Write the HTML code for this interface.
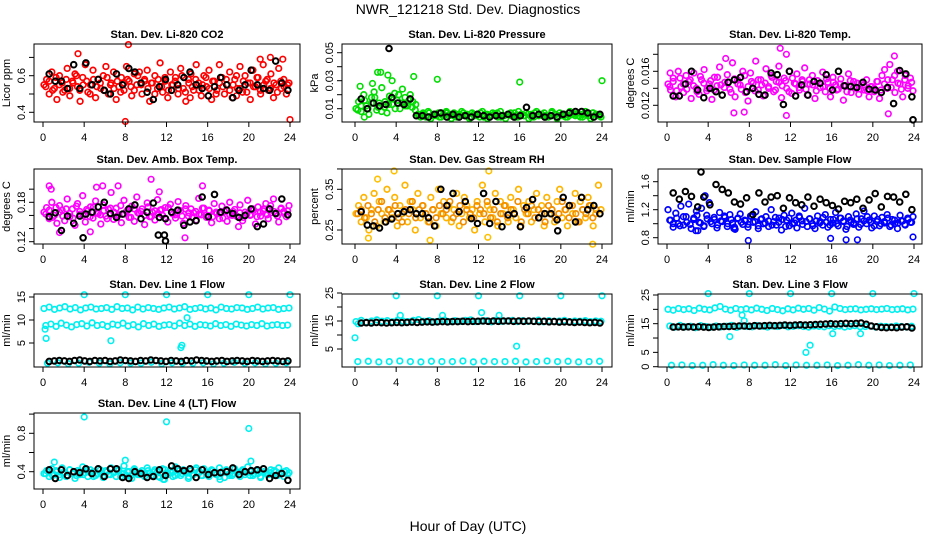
<!DOCTYPE html>
<html><head><meta charset="utf-8"><style>
html,body{margin:0;padding:0;background:#fff;width:936px;height:540px;overflow:hidden}
svg text{font-family:"Liberation Sans",Arial,sans-serif}
</style></head><body>
<svg id="chart" width="936" height="540" xmlns="http://www.w3.org/2000/svg">
<text x="468" y="14" font-size="14" text-anchor="middle">NWR_121218 Std. Dev. Diagnostics</text>
<text x="468" y="531" font-size="14" text-anchor="middle">Hour of Day (UTC)</text>
</svg>
<script>
const xTicks=[0,4,8,12,16,20,24];
// Panel 1 CO2
const co2Main=[.55,.58,.50,.62,.53,.47,.60,.56,.52,.64,.49,.57,.61,.54,.46,.59,.66,.51,.55,.63,.48,.58,.53,.60,.65,.50,.56,.62,.47,.54,.59,.52,.65,.57,.49,.61,.55,.62,.50,.58,.63,.46,.56,.60,.53,.67,.51,.57,.48,.62,.55,.59,.50,.64,.53,.46,.58,.61,.52,.66,.56,.49,.60,.54,.63,.47,.57,.52,.66,.59,.50,.55,.62,.48,.58,.53,.65,.51,.60,.56,.47,.63,.54,.59,.50,.66,.57,.52,.61,.48,.55,.64,.53,.58,.50,.56];
const co2Core=[.54,.57,.52,.59,.55,.51,.58,.53,.56,.60,.52,.55,.57,.50,.58,.54,.56,.52,.59,.55,.53,.57,.51,.56,.58,.54,.52,.60,.55,.57,.53,.56,.50,.58,.54,.59,.52,.55,.57,.53,.60,.51,.56,.54,.58,.52,.55,.59,.53,.57,.50,.56,.54,.58,.52,.55,.60,.53,.57,.51,.56,.54,.59,.52,.55,.58,.53,.56,.51,.57,.54,.55];
const co2Black=[.61,.57,.57,.53,.66,.53,.67,.55,.58,.52,.50,.61,.55,.64,.62,.56,.51,.47,.54,.58,.52,.55,.59,.62,.55,.53,.49,.54,.59,.55,.48,.52,.55,.63,.55,.53,.52,.68,.56,.52];
const co2OutH=[3.4,8.0,8.3,14.3,24,21.1,22.1,23.3,18.8];
const co2OutV=[.72,.35,.77,.48,.36,.69,.70,.69,.49];
// Panel 2 pressure
const prMain=[.010,.015,.008,.020,.012,.006,.018,.022,.009,.014,.025,.011,.007,.019,.013,.021,.016,.010,.024,.018,.012,.020,.015,.009,.006,.004,.007,.005,.008,.003,.006,.005,.007,.004,.006,.008,.005,.003,.007,.006,.004,.008,.005,.006,.003,.007,.005,.006,.004,.008,.006,.003,.005,.007,.006,.004,.008,.005,.003,.006,.007,.005,.004,.008,.006,.005,.007,.003,.006,.004,.008,.005,.006,.007,.004,.005,.008,.006,.003,.007,.005,.006,.004,.008,.006,.005,.007,.004,.006,.008,.005,.003,.007,.006,.005,.004];
const prCore=[.009,.012,.016,.010,.014,.018,.011,.008,.015,.013,.017,.010,.020,.014,.012,.016,.011,.013,.005,.006,.004,.007,.005,.006,.004,.005,.007,.006,.005,.004,.006,.007,.005,.004,.006,.005,.007,.004,.006,.005,.006,.007,.004,.005,.006,.005,.007,.004,.006,.005,.006,.004,.007,.005,.006,.005,.004,.007,.006,.005,.006,.004,.005,.007,.006,.005,.004,.006,.005,.007,.006,.005];
const prBlack=[.017,.010,.014,.012,.013,.018,.014,.013,.017,.005,.005,.004,.006,.007,.004,.006,.004,.005,.004,.006,.005,.004,.005,.005,.006,.004,.005,.011,.005,.006,.004,.005,.004,.006,.007,.008,.008,.007,.004,.006];
const prOutH=[0.5,1.7,2.2,2.5,3.2,3.6,5.7,8.0,16,24,0.9,3.3];
const prOutV=[.026,.028,.036,.036,.034,.030,.033,.031,.029,.030,.004,.053];
const prOutBlack=[false,false,false,false,false,false,false,false,false,false,false,true];
// Panel 3 temp
const tmMain=[.0145,.0138,.0152,.0130,.0160,.0142,.0135,.0155,.0148,.0128,.0158,.0140,.0133,.0150,.0162,.0137,.0145,.0127,.0153,.0143,.0165,.0132,.0147,.0156,.0139,.0170,.0130,.0150,.0144,.0160,.0135,.0125,.0158,.0146,.0172,.0138,.0150,.0131,.0163,.0142,.0155,.0136,.0148,.0166,.0129,.0152,.0140,.0160,.0134,.0146,.0157,.0138,.0150,.0164,.0132,.0145,.0155,.0128,.0149,.0141,.0159,.0136,.0147,.0130,.0153,.0144,.0139,.0151,.0126,.0143,.0157,.0135,.0148,.0140,.0133,.0146,.0138,.0150,.0130,.0142,.0136,.0148,.0128,.0155,.0162,.0140,.0168,.0150,.0135,.0160,.0145,.0130,.0155,.0140,.0152,.0137];
const tmCore=[.0142,.0148,.0137,.0152,.0145,.0139,.0150,.0143,.0136,.0154,.0146,.0140,.0149,.0138,.0153,.0144,.0141,.0147,.0135,.0151,.0145,.0139,.0155,.0142,.0148,.0137,.0150,.0144,.0146,.0140,.0153,.0138,.0147,.0143,.0149,.0136,.0152,.0145,.0141,.0148,.0139,.0150,.0144,.0137,.0146,.0142,.0151,.0140,.0147,.0138,.0145,.0143,.0136,.0149,.0141,.0146,.0139,.0144,.0137,.0142,.0140,.0148,.0138,.0145,.0150,.0141,.0155,.0146,.0139,.0150,.0143,.0147];
const tmBlack=[.0131,.0131,.0145,.0160,.0138,.0129,.0140,.0136,.0132,.0147,.0150,.0153,.0136,.0140,.0133,.0132,.0158,.0156,.0121,.0160,.0131,.0144,.0132,.0148,.0146,.0156,.0138,.0160,.0143,.0142,.0141,.0147,.0139,.0138,.0135,.0141,.0122,.0161,.0157,.0130];
const tmOutH=[11,11.6,6.5,11.6,21.5,0.3,7.5,5.7,22.1,23.9];
const tmOutV=[.0187,.0180,.0111,.0108,.0110,.0158,.0112,.0175,.0178,.0103];
const tmOutBlack=[false,false,false,false,false,false,false,false,false,true];
// Panel 4 amb box temp
const abMain=[.165,.172,.155,.180,.160,.148,.175,.168,.152,.185,.158,.170,.145,.178,.162,.190,.150,.167,.173,.156,.182,.163,.147,.176,.159,.169,.195,.154,.171,.161,.149,.183,.166,.157,.174,.151,.188,.163,.170,.146,.179,.158,.165,.153,.184,.168,.160,.172,.150,.177,.162,.156,.181,.167,.148,.175,.159,.170,.164,.153,.186,.161,.171,.157,.168,.149,.178,.163,.155,.174,.166,.151,.180,.160,.169,.158,.176,.152,.165,.183,.161,.170,.147,.173,.159,.167,.178,.155,.164,.185,.162,.150,.171,.166,.158,.175];
const abCore=[.162,.168,.157,.172,.165,.159,.170,.163,.156,.174,.166,.160,.169,.158,.173,.164,.161,.167,.155,.171,.165,.159,.175,.162,.168,.157,.170,.164,.166,.160,.173,.158,.167,.163,.169,.156,.172,.165,.161,.168,.159,.170,.164,.157,.166,.162,.171,.160,.167,.158,.165,.163,.156,.169,.161,.166,.159,.164,.157,.162,.160,.168,.158,.165,.170,.161,.175,.166,.159,.170,.163,.167];
const abBlack=[.158,.164,.137,.159,.148,.159,.162,.165,.173,.180,.163,.157,.162,.170,.176,.155,.165,.179,.157,.155,.165,.168,.145,.150,.152,.188,.158,.192,.165,.168,.163,.157,.160,.170,.143,.147,.170,.163,.185,.161];
const abOutH=[0.6,0.8,1.6,5.2,5.8,7.3,10.5,11.3,13.8,15.5,19.0,4.6,3.9,11.2,11.9,11.8];
const abOutV=[.205,.200,.134,.203,.205,.205,.215,.196,.126,.205,.143,.135,.126,.130,.121,.130];
const abOutBlack=[false,false,false,false,false,false,false,false,false,false,false,false,true,true,true,true];
// Panel 5 RH
const rhMain=[.29,.31,.27,.33,.28,.25,.30,.34,.26,.32,.29,.27,.35,.30,.28,.33,.26,.31,.29,.36,.27,.32,.30,.25,.34,.28,.31,.29,.27,.33,.30,.26,.35,.29,.32,.28,.31,.27,.30,.34,.26,.29,.33,.31,.28,.30,.25,.32,.29,.36,.27,.31,.30,.28,.34,.26,.32,.29,.31,.27,.33,.30,.28,.35,.26,.31,.29,.32,.27,.30,.34,.28,.31,.26,.33,.29,.30,.27,.32,.35,.28,.30,.26,.31,.29,.34,.27,.32,.30,.28,.33,.31,.26,.29,.36,.30];
const rhCore=[.29,.30,.28,.31,.29,.27,.30,.32,.28,.30,.29,.31,.28,.27,.30,.29,.32,.28,.30,.31,.29,.27,.30,.28,.31,.29,.30,.32,.28,.29,.31,.27,.30,.29,.28,.31,.30,.29,.32,.28,.30,.27,.29,.31,.28,.30,.29,.32,.27,.30,.29,.31,.28,.30,.29,.27,.31,.30,.28,.29,.32,.30,.28,.31,.29,.27,.30,.29,.31,.28,.30,.29];
const rhBlack=[.295,.262,.26,.255,.27,.277,.29,.295,.30,.29,.29,.28,.26,.35,.31,.34,.295,.32,.278,.266,.34,.266,.32,.258,.287,.29,.258,.305,.325,.28,.29,.29,.275,.33,.31,.27,.33,.30,.31,.29];
const rhOutH=[2.2,3.8,13.0,7.3,23.1,1.3,12.9,19.7];
const rhOutV=[.375,.395,.395,.225,.215,.230,.232,.248];
const rhOutBlack=[false,false,false,false,false,false,false,true];
// Panel 6 sample flow
const sfMain=[1.20,1.05,0.95,1.15,1.00,1.25,0.98,1.10,1.28,0.93,1.08,1.18,1.02,1.22,0.97,1.12,1.30,1.00,1.06,0.94,1.16,1.03,1.09,0.96,1.13,1.01,0.92,1.07,1.14,0.99,1.04,0.95,1.11,1.02,1.17,0.93,1.06,1.00,1.10,0.96,1.20,1.03,0.98,1.08,0.91,1.12,1.05,0.97,1.15,1.01,0.94,1.09,1.04,1.22,0.96,1.07,1.00,0.93,1.11,1.03,0.98,1.13,0.95,1.06,1.01,1.16,0.97,1.08,1.04,0.92,1.10,1.02,0.99,1.14,0.95,1.07,1.18,1.00,1.05,0.94,1.11,1.03,0.97,1.09,1.01,1.13,0.96,1.06,1.00,0.93,1.12,1.04,0.98,1.08,1.02,1.10];
const sfCore=[1.05,1.00,1.08,0.97,1.10,1.02,0.99,1.06,1.12,1.01,0.96,1.07,1.03,1.09,0.98,1.04,1.11,1.00,1.06,0.95,1.08,1.02,1.05,0.99,1.10,1.03,0.97,1.07,1.01,1.04,0.98,1.09,1.02,1.06,0.96,1.08,1.00,1.05,1.11,0.99,1.03,1.07,0.97,1.04,1.01,1.09,1.02,0.98,1.06,1.00,1.08,1.03,0.96,1.05,1.01,1.07,0.99,1.04,1.10,1.02,0.97,1.06,1.00,1.03,1.08,0.98,1.05,1.01,1.04,0.99,1.06,1.02];
const sfBlack=[1.44,1.35,1.46,1.39,1.24,1.38,1.27,1.56,1.49,1.44,1.31,1.28,1.37,1.13,1.44,1.31,1.38,1.40,1.22,1.37,1.30,1.27,1.38,1.25,1.35,1.30,1.26,1.21,1.32,1.30,1.35,1.22,1.34,1.43,1.24,1.39,1.38,1.31,1.42,1.20];
const sfOutH=[2.8,3.0,7.9,15.9,17.4,18.5,23.9,3.7,6.5,3.3];
const sfOutV=[.90,.90,.76,.79,.77,.77,.81,1.40,.93,1.74];
const sfOutBlack=[false,false,false,false,false,false,false,false,false,true];
// Panel 7 line 1 flow
const l1Upper=[12.5,12.8,12.3,12.6,12.9,12.4,12.7,12.2,12.6,12.8,12.4,12.5,12.7,12.3,12.9,12.5,12.6,12.2,12.8,12.4,12.7,12.5,12.3,12.6,12.8,12.4,12.6,12.9,12.3,12.5,12.7,12.4,12.6,12.2,12.8,12.5,12.4,12.7,12.6,12.3,12.5,12.8,12.4,12.6,12.7,12.3,12.5,12.6];
const l1Mid=[8.8,9.1,8.6,9.3,8.9,8.5,9.0,9.2,8.7,9.4,8.8,9.0,8.6,9.1,8.9,9.3,8.7,9.0,8.5,9.2,8.8,9.1,8.6,8.9,9.0,8.7,9.3,8.8,9.1,8.6,9.0,8.9,8.7,9.2,8.8,9.0,8.6,9.1,8.9,8.7,9.0,8.8,9.2,8.7,8.9,9.0,8.8,8.9];
const l1Low=[0.6,0.7,0.5,0.6,0.8,0.6,0.5,0.7,0.6,0.6,0.8,0.5,0.7,0.6,0.6,0.7,0.5,0.6,0.8,0.6,0.7,0.5,0.6,0.7];
const l1Black=[1.0,1.1,1.2,1.1,1.0,1.2,1.3,1.1,1.0,1.2,1.1,1.2,1.0,1.1,1.3,1.2,1.1,1.0,1.2,1.1,1.3,1.2,1.1,1.0,1.2,1.1,1.0,1.2,1.1,1.3,1.2,1.1,1.0,1.1,1.2,1.0,1.1,1.2,1.1,1.0,1.2,1.1,1.0,1.1,1.2,1.1,1.0,1.1];
const l1OutH=[0.3,4,8,12,16,20,24,0.2,13.4,13.5,6.6,14];
const l1OutV=[6,15.5,15.5,15.5,15.5,15.5,15.5,8,4,4.5,5.5,10.5];
// Panel 8 line 2 flow
const l2Main=[14.8,15.2,14.6,15.0,15.4,14.9,15.1,14.7,15.3,15.0,14.8,15.2,15.5,14.9,15.1,14.7,15.0,15.3,14.8,15.1,14.9,15.2,15.4,14.8,15.0,15.1,14.7,15.3,14.9,15.0,15.2,14.8,15.1,14.9,15.0,15.3,14.7,15.1,14.9,15.0,15.2,14.8,15.0,14.9,15.1,14.8,15.0,14.9];
const l2Low=[0.5,0.6,0.4,0.5,0.7,0.5,0.4,0.6,0.5,0.5,0.7,0.4,0.6,0.5,0.5,0.6,0.4,0.5,0.7,0.5,0.6,0.4,0.5,0.6];
const l2Black=[14.3,14.4,14.3,14.5,14.4,14.3,14.4,14.5,14.4,14.5,14.6,14.5,14.6,14.7,14.6,14.7,14.8,14.7,14.8,14.8,14.9,14.8,14.9,14.9,15.0,14.9,15.0,14.9,15.0,15.0,14.9,15.0,14.9,15.0,14.9,14.8,14.9,14.7,14.8,14.6,14.7,14.6,14.5,14.6,14.5,14.4,14.5,14.3];
const l2OutH=[0,4,8,12,16,20,24,4.4,8.5,12.3,14,15.7,0.3];
const l2OutV=[9,24,24,24,24,24,24,17,17,18,17,6,14];
// Panel 9 line 3 flow
const l3Upper=[20.0,19.7,20.3,19.9,20.2,19.6,20.4,20.0,19.8,20.5,21.0,20.1,19.7,20.3,19.9,20.2,19.8,20.4,20.0,19.6,20.3,19.9,19.5,20.2,19.8,20.4,20.0,20.3,19.7,20.6,20.1,19.4,20.8,20.3,19.9,20.1,20.2,19.8,20.0,20.2,19.9,20.1,20.3,19.9,20.0,20.2,19.8,20.1];
const l3Mid=[14.2,13.8,14.4,13.9,14.1,13.6,14.3,14.0,13.8,14.2,13.9,14.1,14.4,13.7,14.2,14.0,13.9,14.3,14.1,13.8,14.2,14.0,14.4,13.9,14.1,14.3,14.0,13.8,14.2,14.1,13.9,14.3,14.0,14.2,13.8,14.1,14.3,13.9,14.0,14.2,13.8,14.1,14.0,13.9,14.2,14.0,13.8,14.1];
const l3Low=[0.5,0.6,0.4,0.5,0.7,0.5,0.4,0.6,0.5,0.5,0.7,0.4,0.6,0.5,0.5,0.6,0.4,0.5,0.7,0.5,0.6,0.4,0.5,0.6];
const l3Black=[13.8,13.9,13.8,13.9,13.8,13.9,13.8,13.7,13.8,13.9,14.0,14.0,14.1,14.2,14.2,14.1,14.3,14.2,14.3,14.4,14.3,14.4,14.5,14.4,14.5,14.6,14.5,14.6,14.7,14.8,14.9,15.0,14.9,15.0,15.1,15.0,15.1,15.2,14.8,14.2,13.9,13.7,13.6,13.7,13.6,13.8,13.9,13.5];
const l3OutH=[4,8,12,16,20,24,6.1,13.5,13.9,16.1,7.3,7.5,18.8];
const l3OutV=[25.5,25.5,25.5,25.5,25.5,25.5,10.5,5,7.5,11.5,18,16,11.5];
// Panel 10 line 4 flow
const l4Main=[.38,.41,.35,.43,.37,.40,.34,.44,.39,.36,.42,.38,.33,.41,.37,.45,.39,.35,.42,.40,.36,.43,.38,.34,.41,.37,.44,.39,.35,.42,.38,.46,.36,.40,.33,.43,.39,.37,.41,.35,.44,.38,.36,.42,.40,.34,.43,.37,.39,.41,.35,.45,.38,.36,.42,.39,.33,.41,.37,.44,.40,.36,.43,.38,.35,.42,.39,.37,.44,.40,.34,.41,.38,.36,.43,.39,.35,.42,.37,.45,.40,.36,.41,.38,.34,.43,.39,.37,.42,.36,.40,.44,.38,.35,.41,.39];
const l4Core=[.38,.40,.36,.41,.37,.39,.35,.42,.38,.36,.40,.37,.41,.39,.35,.38,.42,.36,.40,.37,.39,.41,.35,.38,.40,.36,.42,.37,.39,.38,.41,.36,.40,.35,.38,.42,.37,.39,.36,.41,.38,.40,.35,.37,.42,.39,.36,.40,.38,.41,.37,.35,.39,.42,.36,.38,.40,.37,.41,.39,.36,.38,.42,.35,.40,.37,.39,.41,.36,.38,.40,.37];
const l4Black=[.42,.33,.42,.36,.40,.39,.43,.38,.43,.35,.43,.43,.34,.33,.40,.38,.34,.35,.42,.36,.46,.43,.41,.43,.34,.42,.37,.39,.39,.40,.44,.37,.40,.41,.42,.43,.33,.36,.38,.31];
const l4OutH=[4,12,20,1.1,8,20.2,17.2,11.7,11.8];
const l4OutV=[.97,.92,.85,.50,.52,.51,.32,.32,.32];

const NS="http://www.w3.org/2000/svg";
const svg=document.getElementById('chart');
function mk(tag,attrs,parent){const e=document.createElementNS(NS,tag);for(const k in attrs)e.setAttribute(k,attrs[k]);(parent||svg).appendChild(e);return e;}

const cols=[{bl:34,br:300,x0:43,x1:290},{bl:342,br:612,x0:355,x1:602},{bl:658,br:922,x0:667,x1:914}];
const rows=[{t:44,b:122},{t:169,b:244},{t:294,b:367},{t:413,b:489}];
const CY='#00f0f0';
const panels=[
 {name:'co2',title:'Stan. Dev. Li-820 CO2',ylab:'Licor ppm',c:0,r:0,v0:.4,p0:112.3,v1:.6,p1:75.7,ticks:[.4,.5,.6,.7],labels:['0.4','','0.6',''],
  series:[{vals:co2Main,col:'#ff0000'},{vals:co2Core,col:'#ff0000'}],outH:co2OutH,outV:co2OutV,outCol:'#ff0000',black:co2Black},
 {name:'pressure',title:'Stan. Dev. Li-820 Pressure',ylab:'kPa',c:1,r:0,v0:.01,p0:108.7,v1:.05,p1:52.7,ticks:[.01,.02,.03,.04,.05],labels:['0.01','','0.03','','0.05'],
  series:[{vals:prMain,col:'#00dd00'},{vals:prCore,col:'#00dd00'}],outH:prOutH,outV:prOutV,outB:prOutBlack,outCol:'#00dd00',black:prBlack},
 {name:'licor-temp',title:'Stan. Dev. Li-820 Temp.',ylab:'degrees C',c:2,r:0,v0:.012,p0:105.3,v1:.016,p1:71.3,ticks:[.012,.014,.016,.018],labels:['0.012','','0.016',''],
  series:[{vals:tmMain,col:'#ff00ff'},{vals:tmCore,col:'#ff00ff'}],outH:tmOutH,outV:tmOutV,outB:tmOutBlack,outCol:'#ff00ff',black:tmBlack},
 {name:'amb-box-temp',title:'Stan. Dev. Amb. Box Temp.',ylab:'degrees C',c:0,r:1,v0:.12,p0:241.7,v1:.18,p1:202.3,ticks:[.12,.14,.16,.18,.20],labels:['0.12','','','0.18',''],
  series:[{vals:abMain,col:'#ff00ff'},{vals:abCore,col:'#ff00ff'}],outH:abOutH,outV:abOutV,outB:abOutBlack,outCol:'#ff00ff',black:abBlack},
 {name:'gas-stream-rh',title:'Stan. Dev. Gas Stream RH',ylab:'percent',c:1,r:1,v0:.25,p0:230,v1:.35,p1:189.3,ticks:[.25,.30,.35,.40],labels:['0.25','','0.35',''],
  series:[{vals:rhMain,col:'#ffb400'},{vals:rhCore,col:'#f08c00'}],outH:rhOutH,outV:rhOutV,outB:rhOutBlack,outCol:'#ffc000',black:rhBlack},
 {name:'sample-flow',title:'Stan. Dev. Sample Flow',ylab:'ml/min',c:2,r:1,v0:.8,p0:237.7,v1:1.6,p1:181.7,ticks:[.8,1.0,1.2,1.4,1.6],labels:['0.8','','1.2','','1.6'],
  series:[{vals:sfMain,col:'#0000ff'},{vals:sfCore,col:'#0000ff'}],outH:sfOutH,outV:sfOutV,outB:sfOutBlack,outCol:'#0000ff',black:sfBlack},
 {name:'line1-flow',title:'Stan. Dev. Line 1 Flow',ylab:'ml/min',c:0,r:2,v0:0,p0:366,v1:15,p1:297,ticks:[5,10,15],labels:['5','10','15'],
  series:[{vals:l1Upper,col:CY},{vals:l1Mid,col:CY},{vals:l1Low,col:CY}],outH:l1OutH,outV:l1OutV,outCol:CY,black:l1Black},
 {name:'line2-flow',title:'Stan. Dev. Line 2 Flow',ylab:'ml/min',c:1,r:2,v0:0,p0:363,v1:25,p1:293,ticks:[5,10,15,20,25],labels:['5','','15','','25'],
  series:[{vals:l2Main,col:CY},{vals:l2Low,col:CY}],outH:l2OutH,outV:l2OutV,outCol:CY,black:l2Black},
 {name:'line3-flow',title:'Stan. Dev. Line 3 Flow',ylab:'ml/min',c:2,r:2,v0:0,p0:366.7,v1:25,p1:295,ticks:[0,5,10,15,20,25],labels:['0','5','','15','','25'],
  series:[{vals:l3Upper,col:CY},{vals:l3Mid,col:CY},{vals:l3Low,col:CY}],outH:l3OutH,outV:l3OutV,outCol:CY,black:l3Black},
 {name:'line4-flow',title:'Stan. Dev. Line 4 (LT) Flow',ylab:'ml/min',c:0,r:3,v0:.4,p0:471.7,v1:.8,p1:433.3,ticks:[.4,.6,.8,1.0],labels:['0.4','','0.8',''],
  series:[{vals:l4Main,col:CY},{vals:l4Core,col:CY}],outH:l4OutH,outV:l4OutV,outCol:CY,black:l4Black}
];

panels.forEach(p=>{
 const C=cols[p.c],R=rows[p.r];
 const g=mk('g',{});
 
 
 const xs=h=>C.x0+(h/24)*(C.x1-C.x0);
 const ys=v=>p.p0+(v-p.v0)*(p.p1-p.p0)/(p.v1-p.v0);
 const pt=(h,v,col,sw,nm)=>{const e=mk('circle',{cx:xs(h).toFixed(1),cy:ys(v).toFixed(1),r:2.8,fill:'none',stroke:col,'stroke-width':sw},g);
  
  };
 p.series.forEach((s,si)=>{const n=s.vals.length;const st=0.1+si*0.17;s.vals.forEach((v,i)=>pt(st+i*(23.8-si*0.3)/(n-1),v,s.col,1.7,'point'));});
 p.outH.forEach((h,i)=>{if(!(p.outB&&p.outB[i]))pt(h,p.outV[i],p.outCol,1.6,'outlier-point');});
 const nb=p.black.length;
 p.black.forEach((v,i)=>pt(0.6+i*23.2/(nb-1),v,'#000',2,'black-point'));
 p.outH.forEach((h,i)=>{if(p.outB&&p.outB[i])pt(h,p.outV[i],'#000',2,'black-outlier-point');});
 const box=mk('rect',{x:C.bl,y:R.t,width:C.br-C.bl,height:R.b-R.t,fill:'none',stroke:'#000','stroke-width':1},g);
 
 
 const t=mk('text',{x:(C.bl+C.br)/2,y:R.t-6,'font-size':11,'font-weight':'bold','text-anchor':'middle'},g);
 t.textContent=p.title;
 
 
 xTicks.forEach(h=>{const x=xs(h);
  mk('line',{x1:x,x2:x,y1:R.b,y2:R.b+5,stroke:'#000'},g);
  const l=mk('text',{x:x,y:R.b+19,'font-size':11,'text-anchor':'middle'},g);l.textContent=h;
  
  });
 p.ticks.forEach((v,i)=>{const y=ys(v);
  mk('line',{x1:C.bl-5,x2:C.bl,y1:y,y2:y,stroke:'#000'},g);
  if(p.labels[i]){const l=mk('text',{x:C.bl-9,y:y,'font-size':11,'text-anchor':'middle',transform:`rotate(-90 ${C.bl-9} ${y})`},g);
   l.textContent=p.labels[i];
   
   }});
 const yl=mk('text',{x:C.bl-24,y:(R.t+R.b)/2,'font-size':11,'text-anchor':'middle',transform:`rotate(-90 ${C.bl-24} ${(R.t+R.b)/2})`},g);
 yl.textContent=p.ylab;
 
 
});
</script>
</body></html>
